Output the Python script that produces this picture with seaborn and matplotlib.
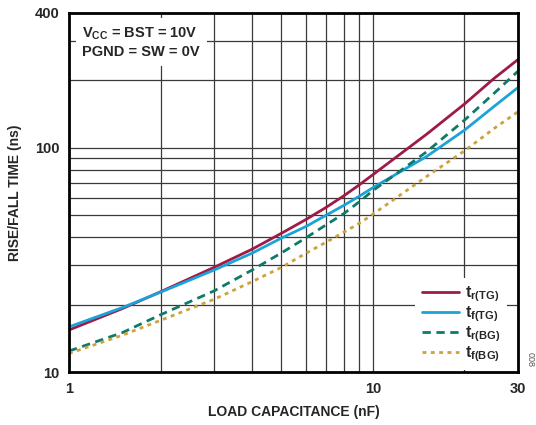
import matplotlib
matplotlib.use("Agg")
import matplotlib.pyplot as plt
import seaborn as sns
import pandas as pd
from matplotlib.ticker import FixedLocator, FixedFormatter, NullFormatter

# ---- data ----
load_nf = [1, 1.5, 2, 3, 4, 5, 6, 7, 8, 9, 10, 15, 20, 25, 30]
tr_tg = [15.4, 19.2, 22.8, 29.3, 35.3, 41.6, 47.8, 54.2, 61.0, 68.3, 76.0, 115, 157, 204, 248]
tf_tg = [15.9, 19.4, 22.7, 28.5, 33.9, 39.6, 44.5, 50.0, 55.3, 60.8, 66.5, 91.5, 120, 153, 186]
tr_bg = [12.4, 15.0, 18.0, 23.0, 28.5, 34.0, 39.6, 45.3, 50.8, 57.4, 64.5, 96, 133, 175, 220]
tf_bg = [12.1, 14.6, 17.0, 21.1, 25.3, 29.3, 33.8, 37.9, 42.0, 46.0, 50.6, 74.5, 97, 122, 145]
series_labels = [r"$\mathbf{t_{r(TG)}}$", r"$\mathbf{t_{f(TG)}}$",
                 r"$\mathbf{t_{r(BG)}}$", r"$\mathbf{t_{f(BG)}}$"]
x_ticks = [1, 10, 30]
y_ticks = [10, 100, 400]
x_grid = [2, 3, 4, 5, 6, 7, 8, 9, 10, 20]
y_grid = [20, 30, 40, 50, 60, 70, 80, 90, 100, 200, 300]

sns.set_theme(style="white")
plt.rcParams["font.family"] = ["Liberation Sans", "DejaVu Sans"]
plt.rcParams["mathtext.fontset"] = "custom"
plt.rcParams["mathtext.rm"] = "Liberation Sans"
plt.rcParams["mathtext.bf"] = "Liberation Sans:bold"
plt.rcParams["mathtext.it"] = "Liberation Sans:italic"

fig = plt.figure(figsize=(5.36, 4.25), dpi=100)
ax = fig.add_axes([69/536, 1-372/425, (518-69)/536, (372-13)/425])

colors = ["#9E1B47", "#1BA3D9", "#0E7A68", "#CCA23C"]
styles = ["-", "-", (0, (3, 2)), (0, (1.4, 1.6))]
all_series = [tr_tg, tf_tg, tr_bg, tf_bg]

ax.set_xscale("log")
ax.set_yscale("log")

for yv in y_grid:
    ax.axhline(yv, color="#3a3a3a", lw=0.9, zorder=1)
for xv in x_grid:
    ax.axvline(xv, color="#3a3a3a", lw=0.9, zorder=1)

for vals, c, ls, lab in zip(all_series, colors, styles, series_labels):
    df = pd.DataFrame({"x": load_nf, "y": vals})
    sns.lineplot(data=df, x="x", y="y", ax=ax, color=c, lw=2.0,
                 linestyle=ls, label=lab, zorder=3)

ax.set_xlim(1, 30)
ax.set_ylim(10, 400)
ax.xaxis.set_major_locator(FixedLocator(x_ticks))
ax.xaxis.set_major_formatter(FixedFormatter([str(v) for v in x_ticks]))
ax.xaxis.set_minor_formatter(NullFormatter())
ax.yaxis.set_major_locator(FixedLocator(y_ticks))
ax.yaxis.set_major_formatter(FixedFormatter([str(v) for v in y_ticks]))
ax.yaxis.set_minor_formatter(NullFormatter())
ax.tick_params(axis="both", which="both", length=0, pad=7)
for lab in ax.get_xticklabels() + ax.get_yticklabels():
    lab.set_fontweight("bold")
    lab.set_fontsize(10.5)

for s in ax.spines.values():
    s.set_color("black")
    s.set_linewidth(2.0)
    s.set_zorder(5)

ax.set_xlabel("LOAD CAPACITANCE (nF)", fontsize=10, fontweight="bold", labelpad=7)
ax.set_ylabel("RISE/FALL TIME (ns)", fontsize=10, fontweight="bold", labelpad=9)

ax.text(0.03, 0.965, "V$_{\\mathbf{CC}}$ = BST = 10V\nPGND = SW = 0V",
        transform=ax.transAxes, ha="left", va="top", fontsize=10.5,
        fontweight="bold", linespacing=1.3, zorder=4,
        bbox=dict(boxstyle="square,pad=0.45", fc="white", ec="none"))

leg = ax.legend(loc="lower right", bbox_to_anchor=(0.975, 0.005),
                frameon=True, fontsize=11.5, handlelength=2.35,
                handletextpad=0.35, labelspacing=0.02, borderaxespad=0.0,
                borderpad=0.4, fancybox=False)
leg.get_frame().set_edgecolor("none")
leg.get_frame().set_facecolor("white")
leg.get_frame().set_alpha(1)
leg.set_zorder(4)

fig.text(530/536, 1-360/425, "008", rotation=270, fontsize=6.5, color="#555555",
         ha="center", va="center")

fig.savefig("out.png", dpi=100)
